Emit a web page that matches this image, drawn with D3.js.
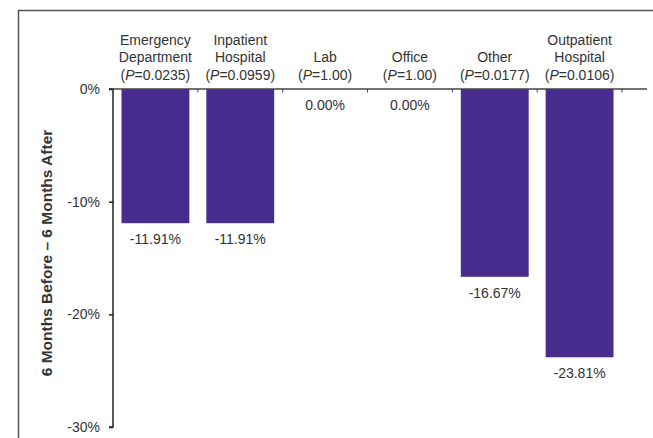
<!DOCTYPE html>
<html>
<head>
<meta charset="utf-8">
<script src="https://cdn.jsdelivr.net/npm/d3@7"></script>
<style>
  html, body { margin: 0; padding: 0; background: #fff; }
  svg { display: block; }
  text { font-family: "Liberation Sans", Arial, Helvetica, sans-serif; fill: #333; }
</style>
</head>
<body>
<svg id="chart" width="653" height="438"></svg>
<script>
// ---- data ----
const categories = ["Emergency Department", "Inpatient Hospital", "Lab", "Office", "Other", "Outpatient Hospital"];
const labelLines = [
  ["Emergency", "Department"],
  ["Inpatient", "Hospital"],
  ["Lab"],
  ["Office"],
  ["Other"],
  ["Outpatient", "Hospital"]
];
const pValues = ["0.0235", "0.0959", "1.00", "1.00", "0.0177", "0.0106"];
const values = [-11.91, -11.91, 0.00, 0.00, -16.67, -23.81];
const yTicks = [0, -10, -20, -30];
const yTitle = "6 Months Before \u2013 6 Months After";

// ---- layout ----
const svg = d3.select("#chart");
const W = 653, H = 438;
const mLeft = 113, mRight = 622, mTop = 89, mBottom = 427;

// frame (cropped at right and bottom)
svg.append("path")
  .attr("d", `M18.5,${H} V10.5 H${W}`)
  .attr("fill", "none")
  .attr("stroke", "#555")
  .attr("stroke-width", 1.5);

const x = d3.scaleBand().domain(categories).range([mLeft, mRight]).paddingInner(0.2).paddingOuter(0.1);
const y = d3.scaleLinear().domain([0, -30]).range([mTop, mBottom]);

// bars
svg.append("g").selectAll("rect").data(categories).join("rect")
  .attr("x", d => x(d))
  .attr("width", x.bandwidth())
  .attr("y", y(0))
  .attr("height", (d, i) => y(values[i]) - y(0))
  .attr("fill", "#482d8f");

// value labels
svg.append("g").selectAll("text").data(categories).join("text")
  .attr("x", d => x(d) + x.bandwidth() / 2)
  .attr("y", (d, i) => y(values[i]) + 21)
  .attr("text-anchor", "middle")
  .attr("font-size", 14)
  .text((d, i) => values[i].toFixed(2) + "%");

// y axis
const yAxis = d3.axisLeft(y).tickValues(yTicks).tickSize(4).tickPadding(9)
  .tickFormat(d => d + "%");
const gy = svg.append("g").attr("transform", `translate(${mLeft},0)`).call(yAxis);
gy.select(".domain").attr("stroke", "#222").attr("stroke-width", 1.5).attr("d", `M-4,${mTop}H0V${mBottom}H-4`);
gy.selectAll(".tick line").attr("stroke", "#222").attr("stroke-width", 1.5);
gy.selectAll(".tick text").attr("font-size", 14).attr("fill", "#333")
  .attr("font-family", "Liberation Sans, Arial, sans-serif");

// x axis line at 0 with ticks at band boundaries
const step = x.step();
const boundaries = categories.map(d => x(d) - x.paddingInner() * step / 2 + step);
svg.append("line")
  .attr("x1", mLeft).attr("x2", 647)
  .attr("y1", y(0)).attr("y2", y(0))
  .attr("stroke", "#444").attr("stroke-width", 1.5);
svg.append("g").selectAll("line").data(boundaries).join("line")
  .attr("x1", d => d).attr("x2", d => d)
  .attr("y1", y(0)).attr("y2", y(0) + 3.5)
  .attr("stroke", "#444").attr("stroke-width", 1);

// category labels
const lineBase = [45, 62, 79.5];
const gl = svg.append("g");
categories.forEach((c, i) => {
  const cx = x(c) + x.bandwidth() / 2;
  const lines = labelLines[i];
  const startIdx = 2 - lines.length;
  lines.forEach((ln, j) => {
    gl.append("text")
      .attr("x", cx).attr("y", lineBase[startIdx + j])
      .attr("text-anchor", "middle").attr("font-size", 14)
      .text(ln);
  });
  const t = gl.append("text")
    .attr("x", cx).attr("y", lineBase[2])
    .attr("text-anchor", "middle").attr("font-size", 14);
  t.append("tspan").text("(");
  t.append("tspan").attr("font-style", "italic").text("P");
  t.append("tspan").text("=" + pValues[i] + ")");
});

// y title
svg.append("text")
  .attr("transform", `translate(52,253) rotate(-90)`)
  .attr("text-anchor", "middle")
  .attr("font-size", 15.5)
  .attr("font-weight", "bold")
  .attr("fill", "#222")
  .text(yTitle);
</script>
</body>
</html>
